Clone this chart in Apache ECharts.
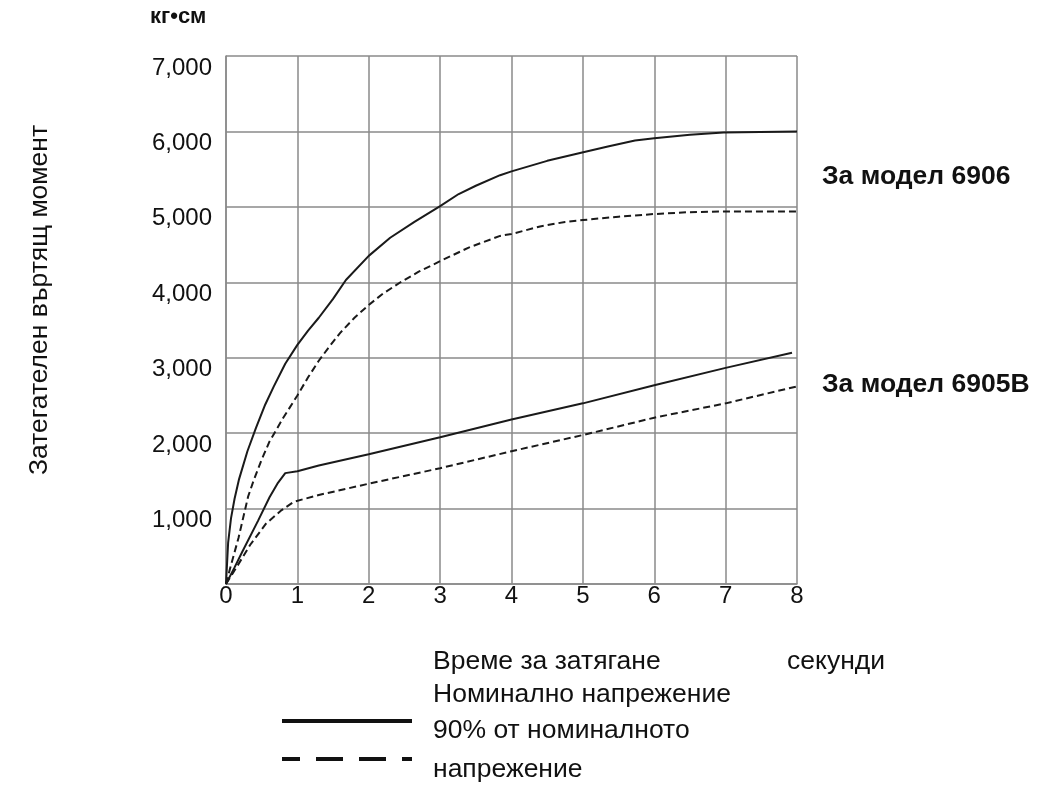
<!DOCTYPE html>
<html>
<head>
<meta charset="utf-8">
<script src="https://cdn.jsdelivr.net/npm/echarts@6/dist/echarts.min.js"></script>
<style>
html,body{margin:0;padding:0;background:#fff;}
#chart{width:1037px;height:793px;}
</style>
</head>
<body>
<div id="chart"></div>
<script>
// Tick values
const xTicks = [0, 1, 2, 3, 4, 5, 6, 7, 8];
const yTicks = [0, 1000, 2000, 3000, 4000, 5000, 6000, 7000];

// Model 6906 – nominal voltage (solid)
const model6906Nominal = [[0,0],[0.03,550],[0.07,870],[0.12,1130],[0.18,1380],[0.3,1760],[0.42,2070],[0.55,2380],[0.67,2620],[0.83,2920],[1.0,3170],[1.15,3360],[1.3,3530],[1.5,3780],[1.68,4030],[2.0,4350],[2.3,4590],[2.64,4800],[3.0,5010],[3.26,5170],[3.5,5280],[3.84,5420],[4.0,5470],[4.5,5610],[4.99,5720],[5.35,5800],[5.73,5880],[6.0,5910],[6.5,5955],[6.97,5985],[8.0,6000]];
// Model 6906 – 90% of nominal voltage (dashed)
const model6906Ninety = [[0,0],[0.07,250],[0.175,610],[0.31,1160],[0.39,1380],[0.5,1650],[0.61,1890],[0.8,2200],[1.0,2500],[1.15,2740],[1.3,2960],[1.45,3150],[1.6,3330],[1.8,3530],[2.0,3700],[2.2,3850],[2.46,4010],[2.7,4140],[3.0,4280],[3.4,4460],[3.84,4615],[4.0,4640],[4.4,4740],[4.75,4800],[5.0,4825],[5.5,4870],[6.0,4905],[6.5,4930],[7.0,4940],[8.0,4940]];
// Model 6905B – nominal voltage (solid)
const model6905BNominal = [[0,0],[0.12,220],[0.23,430],[0.45,840],[0.61,1150],[0.72,1330],[0.83,1470],[1.0,1495],[1.3,1570],[2.0,1720],[3.0,1945],[4.0,2180],[5.0,2395],[6.0,2635],[7.0,2865],[7.93,3065]];
// Model 6905B – 90% of nominal voltage (dashed)
const model6905BNinety = [[0,0],[0.13,195],[0.34,520],[0.56,800],[0.78,980],[0.95,1090],[1.3,1180],[2.0,1330],[3.0,1535],[4.0,1760],[5.0,1975],[6.0,2205],[7.0,2395],[8.0,2620]];

const FONT = '"Liberation Sans", Arial, Helvetica, sans-serif';
const GRID = '#8a8a8a';

const chart = echarts.init(document.getElementById('chart'), null, {renderer:'canvas'});

function lineSeries(name, data, dashed){
  return {
    name: name, type: 'line', data: data, showSymbol: false, symbol: 'none',
    smooth: false, animation: false,
    lineStyle: {color: '#1a1a1a', width: 2, type: dashed ? [7,4] : 'solid'}
  };
}

chart.setOption({
  backgroundColor: '#fff',
  animation: false,
  grid: {left: 226, right: 240, top: 56, bottom: 209, containLabel: false},
  xAxis: {
    type: 'value', min: xTicks[0], max: xTicks[xTicks.length-1], interval: 1,
    axisLine: {show: true, lineStyle: {color: GRID, width: 1.5}},
    axisTick: {show: false},
    splitLine: {show: true, lineStyle: {color: GRID, width: 1.5}},
    axisLabel: {color: '#111', fontFamily: FONT, fontSize: 24, margin: 0, verticalAlign: 'top'}
  },
  yAxis: {
    type: 'value', min: yTicks[0], max: yTicks[yTicks.length-1], interval: 1000,
    axisLine: {show: true, lineStyle: {color: GRID, width: 1.5}},
    axisTick: {show: false},
    splitLine: {show: true, lineStyle: {color: GRID, width: 1.5}},
    axisLabel: {
      color: '#111', fontFamily: FONT, fontSize: 24, margin: 14, verticalAlign: 'top',
      formatter: v => v === 0 ? '' : v.toLocaleString('en-US')
    }
  },
  series: [
    lineSeries('6906 номинално', model6906Nominal, false),
    lineSeries('6906 90%', model6906Ninety, true),
    lineSeries('6905B номинално', model6905BNominal, false),
    lineSeries('6905B 90%', model6905BNinety, true)
  ],
  graphic: [
    {type:'text', left:150, top:6, style:{text:'кг•см', font:'bold 22px ' + FONT, fill:'#111'}},
    {type:'text', x:40, y:300, rotation: Math.PI/2, style:{text:'Затегателен въртящ момент', font:'26.5px ' + FONT, fill:'#111', textAlign:'center', textVerticalAlign:'middle'}},
    {type:'text', left:822, top:163, style:{text:'За модел 6906', font:'bold 26.5px ' + FONT, fill:'#111'}},
    {type:'text', left:822, top:371, style:{text:'За модел 6905B', font:'bold 26.5px ' + FONT, fill:'#111'}},
    {type:'text', left:433, top:648, style:{text:'Време за затягане', font:'26.5px ' + FONT, fill:'#111'}},
    {type:'text', left:787, top:648, style:{text:'секунди', font:'26.5px ' + FONT, fill:'#111'}},
    {type:'text', left:433, top:681, style:{text:'Номинално напрежение', font:'26.5px ' + FONT, fill:'#111'}},
    {type:'text', left:433, top:717, style:{text:'90% от номиналното', font:'26.5px ' + FONT, fill:'#111'}},
    {type:'text', left:433, top:756, style:{text:'напрежение', font:'26.5px ' + FONT, fill:'#111'}},
    {type:'line', shape:{x1:282, y1:721, x2:412, y2:721}, style:{stroke:'#111', lineWidth:4}},
    {type:'line', shape:{x1:282, y1:759, x2:412, y2:759}, style:{stroke:'#111', lineWidth:4, lineDash:[27,16], lineDashOffset:9}}
  ]
});
</script>
</body>
</html>
